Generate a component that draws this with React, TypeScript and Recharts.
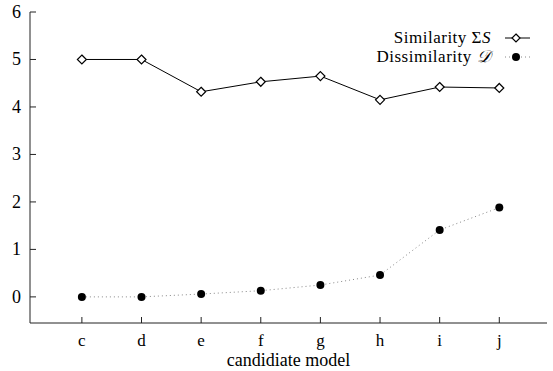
import { LineChart, Line, XAxis, YAxis, Legend } from "recharts";

const models = ["c", "d", "e", "f", "g", "h", "i", "j"];
const similarity = [5.0, 5.0, 4.32, 4.53, 4.65, 4.15, 4.42, 4.4];
const dissimilarity = [0.0, 0.0, 0.06, 0.13, 0.25, 0.46, 1.41, 1.88];
const yTicks = [0, 1, 2, 3, 4, 5, 6];
const xTicks = models.map((_, i) => i);

const data = models.map((m, i) => ({
  idx: i,
  model: m,
  sim: similarity[i],
  dis: dissimilarity[i],
}));

const FONT = "Liberation Serif, Times New Roman, serif";
const FS = 17;
const INK = "#222";
const TICK = 6;

const BottomTick = ({ x, y, payload }: any) => (
  <g>
    <line x1={x} y1={y} x2={x} y2={y - TICK} stroke={INK} />
    <text x={x} y={y + 23} textAnchor="middle" fontFamily={FONT} fontSize={FS} fill="#000">
      {models[payload.value]}
    </text>
  </g>
);

const TopTick = ({ x, y }: any) => <line x1={x} y1={y} x2={x} y2={y + TICK} stroke={INK} />;

const LeftTick = ({ x, y, payload }: any) => (
  <g>
    <line x1={x} y1={y} x2={x + TICK} y2={y} stroke={INK} />
    <text x={x - 9} y={y + 6} textAnchor="end" fontFamily={FONT} fontSize={18} fill="#000">
      {payload.value}
    </text>
  </g>
);

const RightTick = ({ x, y }: any) => <line x1={x} y1={y} x2={x - TICK} y2={y} stroke={INK} />;

const Diamond = ({ cx, cy, index }: any) => (
  <path
    key={index}
    d={`M${cx},${cy - 4.5}L${cx + 4.5},${cy}L${cx},${cy + 4.5}L${cx - 4.5},${cy}Z`}
    fill="#fff"
    stroke="#000"
    strokeWidth={1.2}
  />
);

const rowStyle = {
  display: "flex",
  alignItems: "center",
  justifyContent: "flex-end",
  height: 19,
  lineHeight: "19px",
} as const;

const LegendBox = () => (
  <div style={{ fontFamily: FONT, fontSize: 17, letterSpacing: "0.5px", color: "#000" }}>
    <div style={rowStyle}>
      <span>
        Similarity Σ<i>S</i>
      </span>
      <svg width={25} height={12} style={{ marginLeft: 14 }}>
        <line x1={0} y1={6} x2={25} y2={6} stroke="#000" />
        <path d="M11,2L15,6L11,10L7,6Z" fill="#fff" stroke="#000" strokeWidth={1.2} />
      </svg>
    </div>
    <div style={rowStyle}>
      <span>
        Dissimilarity <i>𝒟</i>
      </span>
      <svg width={25} height={12} style={{ marginLeft: 14 }}>
        <line x1={0} y1={6} x2={25} y2={6} stroke="#888" strokeDasharray="1 3" />
        <circle cx={11} cy={6} r={4} fill="#000" />
      </svg>
    </div>
  </div>
);

export default function App() {
  return (
    <div style={{ position: "absolute", left: 0, top: 0, background: "#fff" }}>
      <LineChart width={553} height={371} data={data} margin={{ top: 12, right: 6, bottom: 0, left: 0 }}>
        <XAxis
          dataKey="idx"
          type="number"
          domain={[-0.87, 7.8]}
          allowDataOverflow
          ticks={xTicks}
          interval={0}
          height={48}
          tickSize={0}
          tickMargin={0}
          tickLine={false}
          tick={BottomTick}
          axisLine={{ stroke: INK }}
          label={{ value: "candidiate model", position: "insideBottom", offset: 5, fontFamily: FONT, fontSize: 18, fill: "#000" }}
        />
        <XAxis
          xAxisId="top"
          orientation="top"
          dataKey="idx"
          type="number"
          domain={[-0.87, 7.8]}
          allowDataOverflow
          ticks={xTicks}
          interval={0}
          height={0}
          tickSize={0}
          tickMargin={0}
          tickLine={false}
          tick={TopTick}
          axisLine={{ stroke: INK }}
        />
        <YAxis
          type="number"
          domain={[-0.55, 6]}
          allowDataOverflow
          ticks={yTicks}
          interval={0}
          width={30}
          tickSize={0}
          tickMargin={0}
          tickLine={false}
          tick={LeftTick}
          axisLine={{ stroke: INK }}
        />
        <YAxis
          yAxisId="right"
          orientation="right"
          type="number"
          domain={[-0.55, 6]}
          allowDataOverflow
          ticks={yTicks}
          interval={0}
          width={0}
          tickSize={0}
          tickMargin={0}
          tickLine={false}
          tick={RightTick}
          axisLine={{ stroke: INK }}
        />
        <Legend
          layout="vertical"
          align="center"
          verticalAlign="middle"
          wrapperStyle={{ top: 28, right: 23, left: "auto", width: "auto" }}
          content={() => <LegendBox />}
        />
        <Line
          dataKey="dis"
          stroke="#888"
          strokeWidth={1}
          strokeDasharray="1 3"
          dot={{ r: 4, fill: "#000", stroke: "#000", strokeWidth: 0 }}
          isAnimationActive={false}
        />
        <Line
          dataKey="sim"
          stroke="#000"
          strokeWidth={1}
          dot={Diamond}
          isAnimationActive={false}
        />
      </LineChart>
    </div>
  );
}
